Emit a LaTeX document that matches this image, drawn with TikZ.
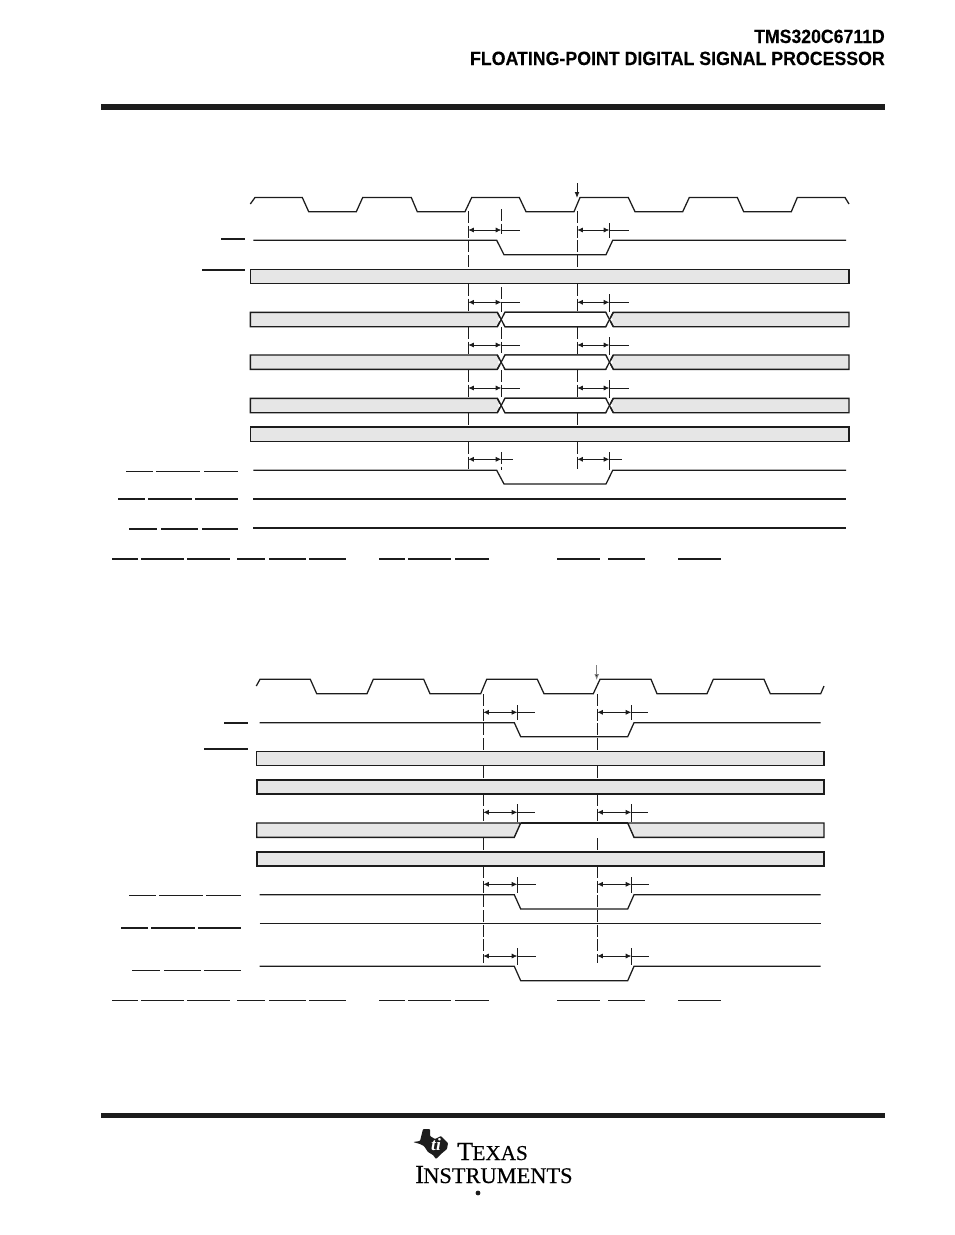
\documentclass[tikz,border=0pt]{standalone}
\usepackage{fontspec}
\setsansfont[BoldFeatures={FakeBold=0.25}]{Liberation Sans}
\setmainfont{Liberation Serif}
\newfontfamily\logofont[FakeBold=0.35]{Liberation Serif}
\usetikzlibrary{arrows.meta}
\definecolor{barfill}{HTML}{E6E6E6}
\definecolor{ink}{HTML}{1C1C1C}
\tikzset{
  every picture/.style={/utils/exec={\sffamily}},
  signal/.style={draw=ink, line width=0.95pt},
  thinsig/.style={draw=ink, line width=0.65pt},
  bar/.style={draw=ink, line width=1.05pt, fill=barfill},
  thinbar/.style={draw=ink, line width=0.7pt, fill=barfill},
  heavybar/.style={draw=ink, line width=1.35pt, fill=barfill},
  guide/.style={draw=ink, line width=0.6pt, dash pattern=on 9pt off 2pt},
  tick/.style={draw=ink, line width=0.6pt},
  measure/.style={draw=ink, line width=0.55pt, {Latex[length=4.2pt,width=3.8pt]}-{Latex[length=4.2pt,width=3.8pt]}},
  tail/.style={draw=ink, line width=0.55pt},
  overbar/.style={draw=ink, line width=0.75pt},
  heavyover/.style={draw=ink, line width=1.35pt},
  headtext/.style={anchor=base east, inner sep=0pt, font=\bfseries\fontsize{14.4}{16}\selectfont},
  logotext/.style={anchor=base west, inner sep=0pt, font=\logofont\fontsize{19.5}{20}\selectfont}
}
\begin{document}
\begin{tikzpicture}[x=0.75pt, y=-0.75pt]
  \useasboundingbox (0,0) rectangle (954,1235);

  % header and footer
  \node [headtext, xscale=0.92] (part) at (885,43) {TMS320C6711D};
  \node [headtext, xscale=0.925] (title) at (885,65) {FLOATING-POINT DIGITAL SIGNAL PROCESSOR};
  \fill [ink] (101,104) rectangle (885,110);
  \fill [ink] (101,1113) rectangle (885,1118);

  % upper diagram: guides sit below the bars
  \foreach \ya/\yb in {211/269,284/312,327/355,370/398,413/427,442/470}
    \draw [guide] (468.3,\ya) -- (468.3,\yb);
  \foreach \ya/\yb in {211/269,284/312,327/355,370/398,413/427,442/470}
    \draw [guide] (577.3,\ya) -- (577.3,\yb);
  \foreach \ya/\yb in {209/234,287/312,327/353,370/398,452/470}
    \draw [guide] (501.3,\ya) -- (501.3,\yb);
  \foreach \ya/\yb in {223/238,294/312,337/355,380/398,452/470}
    \draw [tick] (609.3,\ya) -- (609.3,\yb);

  \draw [signal] (250.3,204) -- (255,197.5) -- (302.3,197.5) -- (308.7,211.7) -- (356.3,211.7) -- (362.7,197.5)
    -- (411.3,197.5) -- (417.3,211.7) -- (465,211.7) -- (471.7,197.5) -- (519.3,197.5) -- (526,211.7)
    -- (574,211.7) -- (580,197.5) -- (628.3,197.5) -- (635,211.7) -- (682.7,211.7) -- (689.3,197.5)
    -- (737.3,197.5) -- (743.7,211.7) -- (791.3,211.7) -- (797.3,197.5) -- (845,197.5) -- (849,204);
  \draw [thinsig, -{Latex[length=4.5pt,width=3.6pt]}] (577,183) -- (577,198);

  \draw [signal] (253.3,240.3) -- (496.7,240.3) -- (504,254.7) -- (606,254.7) -- (612.7,240.3) -- (846,240.3);
  \draw [signal] (253.3,470.3) -- (496.7,470.3) -- (504,484) -- (606,484) -- (612.7,470.3) -- (846,470.3);
  \draw [signal] (253.3,499) -- (846,499);
  \draw [signal] (253.3,528) -- (846,528);

  \draw [bar] (250.3,269.3) rectangle (849,283.7);
  \draw [bar] (250.3,427) rectangle (849,441.3);
  \foreach \ya/\yb in {312.3/326.7,355/369.3,398.3/412.7} {
    \draw [bar] (250.3,\ya) -- (497.3,\ya) -- (505,\yb) -- (605.7,\yb) -- (613.3,\ya) -- (849,\ya) -- (849,\yb)
      -- (613.3,\yb) -- (605.7,\ya) -- (505,\ya) -- (497.3,\yb) -- (250.3,\yb) -- cycle;
    \fill [white] (505,\ya) -- (497.8,{(\ya+\yb)/2}) -- (505,\yb) -- (605.7,\yb) -- (612.9,{(\ya+\yb)/2}) -- (605.7,\ya) -- cycle;
    \draw [signal] (497.3,\yb) -- (505,\ya) -- (605.7,\ya) -- (613.3,\yb);
    \draw [signal] (497.3,\ya) -- (505,\yb) -- (605.7,\yb) -- (613.3,\ya);
  }

  \foreach \y/\e/\f in {230/520/629,302.3/520/629,345/520/629,388/520/629,459.3/513.3/622.3} {
    \draw [measure] (468.3,\y) -- (501.3,\y);
    \draw [tail] (501.3,\y) -- (\e,\y);
    \draw [measure] (577.3,\y) -- (609.3,\y);
    \draw [tail] (609.3,\y) -- (\f,\y);
  }

  % lower diagram
  \foreach \x in {483.3,597.3} \foreach \ya/\yb in {694/751,766/780,794/823,838/852,866/963}
    \draw [guide] (\x,\ya) -- (\x,\yb);
  \foreach \x in {517.3,631.3} \foreach \ya/\yb in {705/720,804/822,877/893,948/965}
    \draw [tick] (\x,\ya) -- (\x,\yb);

  \draw [signal] (256.3,686) -- (260,679.3) -- (310.3,679.3) -- (316.7,693.7) -- (367,693.7) -- (373.3,679.3)
    -- (423.7,679.3) -- (430,693.7) -- (480.7,693.7) -- (486.7,679.3) -- (537.3,679.3) -- (544,693.7)
    -- (593.3,693.7) -- (600,679.3) -- (651,679.3) -- (657,693.7) -- (707,693.7) -- (713.3,679.3)
    -- (764,679.3) -- (770.3,693.7) -- (820.7,693.7) -- (824,686);
  \draw [thinsig, draw=gray, -{Latex[length=4.5pt,width=3.6pt,fill=ink]}] (596.7,665) -- (596.7,680);

  \foreach \ya/\yb in {722.7/736.7,894.7/909,966.3/980.7}
    \draw [signal] (259.7,\ya) -- (514.3,\ya) -- (520.7,\yb) -- (627.7,\yb) -- (634,\ya) -- (820.7,\ya);
  \draw [thinsig] (259.7,923.3) -- (820.7,923.3);

  \draw [thinbar] (256.7,751.3) rectangle (824,765.3);
  \draw [heavyover] (824,751.3) -- (824,765.3);
  \draw [heavybar] (256.7,779.7) rectangle (824,794);
  \draw [heavybar] (256.7,852) rectangle (824,866);
  \draw [bar] (256.7,823) -- (520.7,823) -- (514.3,837.3) -- (256.7,837.3) -- cycle;
  \draw [bar] (627.7,823) -- (824,823) -- (824,837.3) -- (634,837.3) -- cycle;
  \draw [heavyover] (520.7,823) -- (627.7,823);

  \foreach \y/\e/\f in {712.3/535/648.3,812.3/535/648.3,884.3/536/649.3,956/536/649.3} {
    \draw [measure] (483.3,\y) -- (517.3,\y);
    \draw [tail] (517.3,\y) -- (\e,\y);
    \draw [measure] (597.3,\y) -- (631.3,\y);
    \draw [tail] (631.3,\y) -- (\f,\y);
  }

  % bars over the stripped signal names
  \foreach \xa/\xb/\y in {221/245/238.7,202/245/269.7,118/145/499,148/192/499,195/238/499,129/157/529,161/198/529,202/238/529,
      112/138/559,141/184/559,187/230/559,237/265/559,269/306/559,309/346/559,379/405/559,408/451/559,455/489/559,557/600/559,608/645/559,678/721/559,
      224/248/722.7,204/248/749,121/148/927.7,151/195/927.7,198/241/927.7}
    \draw [heavyover] (\xa,\y) -- (\xb,\y);
  \foreach \xa/\xb/\y in {126/153/471.3,156/200/471.3,204/238/471.3,129/156/895,159/203/895,206/241/895,132/160/970,164/201/970,204/241/970,
      112/138/1000.3,141/184/1000.3,187/230/1000.3,237/265/1000.3,269/306/1000.3,309/346/1000.3,379/405/1000.3,408/451/1000.3,455/489/1000.3,557/600/1000.3,608/645/1000.3,678/721/1000.3}
    \draw [overbar] (\xa,\y) -- (\xb,\y);

  % logo
  \fill [ink, rounded corners=0.6pt] (423,1129) -- (430,1129) -- (430,1136) -- (435,1139) -- (441,1136) -- (448,1143)
    -- (447,1149) -- (441,1154) -- (436,1159) -- (433,1155) -- (428,1152) -- (424,1146) -- (420,1144) -- (413,1142) -- (420,1141) -- cycle;
  \node [white, inner sep=0pt, font=\rmfamily\bfseries\itshape\fontsize{13}{13}\selectfont] (tilogo) at (436,1145) {ti};
  \node [logotext] (texas) at (457,1160) {T\kern-0.5pt{\fontsize{15.9}{16}\selectfont EXAS}};
  \node [logotext] (instruments) at (415,1183) {I\kern-0.5pt{\fontsize{16.8}{17}\selectfont NSTRUMENTS}};
  \node [circle, fill=ink, inner sep=0pt, minimum size=3.6pt] (dot) at (478,1193) {};
\end{tikzpicture}
\end{document}
